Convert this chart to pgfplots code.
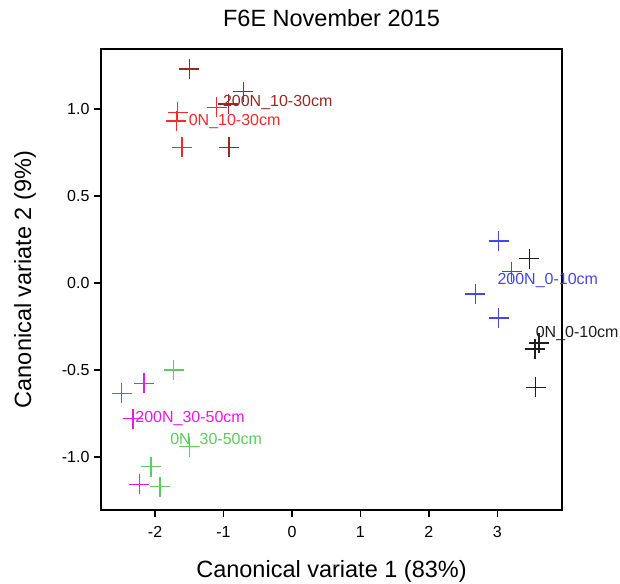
\documentclass[border=0pt]{standalone}
\usepackage{pgfplots}
\pgfplotsset{compat=1.18}
\usepackage{fontspec}
\setmainfont{Liberation Sans}
\definecolor{cRed}{RGB}{250,40,40}
\definecolor{cDark}{RGB}{150,40,40}
\definecolor{cBlue}{RGB}{70,70,240}
\definecolor{cGreen}{RGB}{90,205,90}
\definecolor{cMag}{RGB}{240,20,240}
\definecolor{cBlack}{RGB}{30,30,30}
\begin{document}
\begin{tikzpicture}
\path[use as bounding box] (0,0) rectangle (620pt,583pt);
\begin{axis}[
  at={(101pt,73pt)}, anchor=south west,
  width=461pt, height=461pt, scale only axis,
  xmin=-2.79, xmax=3.945, ymin=-1.305, ymax=1.345,
  xtick={-2,-1,0,1,2,3},
  ytick={-1,-0.5,0,0.5,1},
  xtick pos=bottom, ytick pos=left,
  tick align=outside,
  major tick length=7pt,
  axis line style={line width=1.3pt},
  every tick/.style={black, line width=1.3pt},
  /pgf/number format/assume math mode=true,
  yticklabel style={/pgf/number format/fixed, /pgf/number format/fixed zerofill, /pgf/number format/precision=1, font=\fontsize{16}{18}\selectfont, xshift=-1pt},
  xticklabel style={font=\fontsize{16}{18}\selectfont, yshift=-6pt},
  title={F6E November 2015},
  title style={at={(axis description cs:0.5,1)}, anchor=center, yshift=25pt, font=\fontsize{23.5}{26}\selectfont},
  xlabel={Canonical variate 1 (83\%)},
  ylabel={Canonical variate 2 (9\%)},
  xlabel style={at={(axis description cs:0.5,0)}, anchor=center, yshift=-61pt, font=\fontsize{23.5}{26}\selectfont},
  ylabel style={at={(axis description cs:-0.1649,0.5)}, anchor=center, font=\fontsize{23.5}{26}\selectfont},
  clip=false,
  every axis plot/.append style={only marks, mark=+, mark size=10pt, line width=1.5pt},
]
\addplot[cBlack, mark options={draw=cBlack}] coordinates {(3.47,0.14) (3.61,-0.345) (3.55,-0.38) (3.56,-0.60)};
\addplot[cBlue, mark options={draw=cBlue}] coordinates {(3.02,0.24) (3.21,0.065) (2.68,-0.063) (3.02,-0.20)};
\addplot[cRed, mark options={draw=cRed}] coordinates {(-1.67,0.98) (-1.69,0.93) (-1.61,0.78) (-1.10,1.01)};
\addplot[cDark, mark options={draw=cDark}] coordinates {(-1.50,1.23) (-0.71,1.10) (-0.92,0.78) (-0.93,1.03)};
\addplot[cGreen, mark options={draw=cGreen}] coordinates {(-1.73,-0.50) (-1.50,-0.94) (-2.06,-1.055) (-1.93,-1.17)};
\addplot[cMag, mark options={draw=cMag}] coordinates {(-2.16,-0.577) (-2.49,-0.634) (-2.32,-0.78) (-2.23,-1.157)};
\begin{scope}[every node/.style={anchor=west, inner sep=0pt, font=\fontsize{16}{18}\selectfont}]
\node[text=cBlack] at (axis cs:3.56,-0.29) {0N\_0-10cm};
\node[text=cBlue] at (axis cs:3.00,0.013) {200N\_0-10cm};
\node[text=cRed] at (axis cs:-1.51,0.93) {0N\_10-30cm};
\node[text=cDark] at (axis cs:-1.01,1.04) {200N\_10-30cm};
\node[text=cGreen] at (axis cs:-1.78,-0.906) {0N\_30-50cm};
\node[text=cMag] at (axis cs:-2.29,-0.78) {200N\_30-50cm};
\end{scope}
\end{axis}
\end{tikzpicture}
\end{document}
